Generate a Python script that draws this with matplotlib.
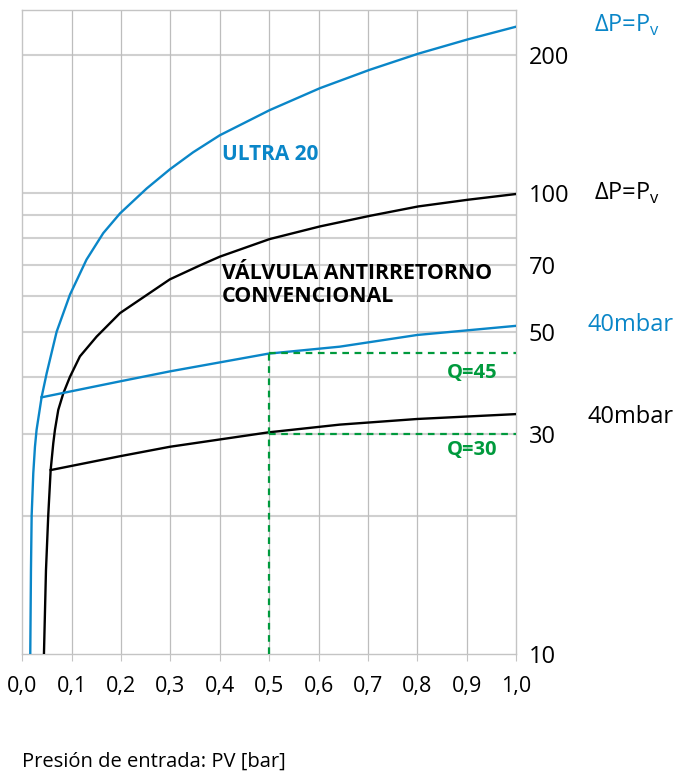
import matplotlib

matplotlib.use("Agg")
import matplotlib.pyplot as plt

plt.rcParams["font.family"] = ["Open Sans", "DejaVu Sans"]
plt.rcParams["mathtext.fontset"] = "custom"
plt.rcParams["mathtext.rm"] = "Open Sans"

BLUE = "#0a86c8"
GREEN = "#009a3d"
GRID = "#c4c4c4"

# ULTRA 20, dP = Pv
blue_dp_x = [0.0162, 0.0176, 0.019, 0.0223, 0.0257, 0.029, 0.0393, 0.0494, 0.0696,
             0.0966, 0.130, 0.164, 0.198, 0.252, 0.299, 0.346, 0.400, 0.501,
             0.603, 0.704, 0.802, 0.903, 1.0]
blue_dp_y = [10, 15.2, 20, 24.7, 28.2, 30.7, 36.2, 40.7, 50.1,
             60.3, 71.8, 82.0, 90.5, 102.5, 112.8, 122.8, 133.7, 151.6,
             169.2, 185.5, 201, 216, 230]

# conventional check valve, dP = Pv
black_dp_x = [0.0439, 0.048, 0.0526, 0.0575, 0.0628, 0.0662, 0.0729, 0.083, 0.0966,
              0.1168, 0.1506, 0.198, 0.299, 0.360, 0.400, 0.501, 0.603, 0.704, 0.802,
              0.903, 1.0]
black_dp_y = [10, 15.2, 20, 25.1, 28.7, 30.7, 33.9, 36.8, 40,
              44.3, 48.9, 55.0, 65.1, 69.8, 72.9, 79.6, 84.8, 89.4, 93.7,
              96.9, 99.7]

# 40 mbar curves
blue_40_x = [0.039, 0.198, 0.299, 0.498, 0.643, 0.80, 1.0]
blue_40_y = [36.1, 39.1, 41.1, 44.9, 46.5, 49.3, 51.6]
black_40_x = [0.0575, 0.198, 0.299, 0.498, 0.643, 0.80, 1.0]
black_40_y = [25.1, 26.9, 28.2, 30.3, 31.5, 32.4, 33.2]

# reading example at PV = 0.5 bar
q_x = 0.5
q_values = [45, 30]
q_labels = ["Q=45", "Q=30"]

x_ticks = [0.0, 0.1, 0.2, 0.3, 0.4, 0.5, 0.6, 0.7, 0.8, 0.9, 1.0]
x_labels = ["0,0", "0,1", "0,2", "0,3", "0,4", "0,5", "0,6", "0,7", "0,8", "0,9", "1,0"]
y_grid = [10, 20, 30, 40, 50, 60, 70, 80, 90, 100, 200]
y_labels = ["10", "", "30", "", "50", "", "70", "", "", "100", "200"]

fig = plt.figure(figsize=(6.81, 7.71), dpi=100)
ax = fig.add_axes([0.0327, 0.1514, 0.725, 0.8356])

ax.set_yscale("log")
ax.set_xlim(0, 1.0)
ax.set_ylim(10, 250)

for v in y_grid[1:]:
    ax.axhline(v, color="#d0d0d0", lw=1.5, zorder=0)
for v in x_ticks[1:-1]:
    ax.axvline(v, color="#bdbdbd", lw=0.9, zorder=0)

ax.plot(blue_dp_x, blue_dp_y, color=BLUE, lw=1.7, zorder=3, solid_joinstyle="round")
ax.plot(black_dp_x, black_dp_y, color="black", lw=1.7, zorder=3, solid_joinstyle="round")
ax.plot(blue_40_x, blue_40_y, color=BLUE, lw=1.7, zorder=3)
ax.plot(black_40_x, black_40_y, color="black", lw=1.7, zorder=3)

ax.plot([q_x, q_x], [10, max(q_values)], color=GREEN, lw=1.6, ls=(0, (3, 2.5)), zorder=4)
for q in q_values:
    ax.plot([q_x, 1.0], [q, q], color=GREEN, lw=1.6, ls=(0, (3, 2.5)), zorder=4)
ax.text(0.912, 40.8, q_labels[0], color=GREEN, fontsize=14.5, fontweight="bold",
        ha="center", va="center")
ax.text(0.912, 27.8, q_labels[1], color=GREEN, fontsize=14.5, fontweight="bold",
        ha="center", va="center")

ax.text(0.404, 121.7, "ULTRA 20", color=BLUE, fontsize=15, fontweight="bold",
        ha="left", va="center")
ax.text(0.404, 67, "VÁLVULA ANTIRRETORNO", color="black", fontsize=15.4,
        fontweight="bold", ha="left", va="center")
ax.text(0.404, 59.6, "CONVENCIONAL", color="black", fontsize=15.4,
        fontweight="bold", ha="left", va="center")

# labels at the curve ends, right of the axis
dp_label = r"ΔP=P$_\mathregular{v}$"
ax.text(1.159, 232, dp_label, color=BLUE, fontsize=17, ha="left", va="center",
        transform=ax.get_yaxis_transform(), clip_on=False)
ax.text(1.159, 100, dp_label, color="black", fontsize=17, ha="left", va="center",
        transform=ax.get_yaxis_transform(), clip_on=False)
ax.text(1.145, 51.8, "40mbar", color=BLUE, fontsize=17, ha="left", va="center",
        transform=ax.get_yaxis_transform(), clip_on=False)
ax.text(1.145, 32.8, "40mbar", color="black", fontsize=17, ha="left", va="center",
        transform=ax.get_yaxis_transform(), clip_on=False)

ax.set_xticks(x_ticks)
ax.set_xticklabels(x_labels, fontsize=15.5)
ax.tick_params(axis="x", length=5, color=GRID, pad=11)
ax.set_yticks(y_grid)
ax.set_yticklabels(y_labels, fontsize=17)
ax.yaxis.set_minor_locator(matplotlib.ticker.NullLocator())
ax.yaxis.tick_right()
ax.tick_params(axis="y", length=0, pad=9)

for s in ax.spines.values():
    s.set_color(GRID)
    s.set_linewidth(1.0)

fig.text(22 / 681, 1 - 762 / 771, "Presión de entrada: PV [bar]", fontsize=14.5,
         ha="left", va="center")

fig.savefig("out.png", dpi=100)
